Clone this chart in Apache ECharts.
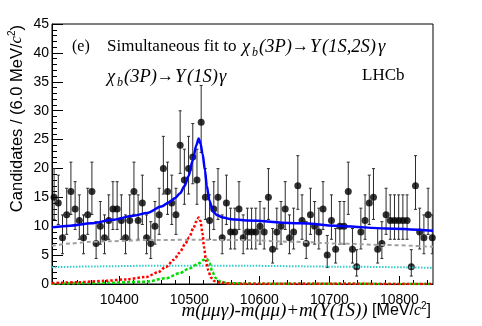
<!DOCTYPE html>
<html>
<head>
<meta charset="utf-8">
<script src="https://cdn.jsdelivr.net/npm/echarts@6/dist/echarts.min.js"></script>
<style>
  html, body { margin: 0; padding: 0; background: #fff; }
  #chart { width: 482px; height: 326px; }
</style>
</head>
<body>
<div id="chart"></div>
<script>
var myChart = echarts.init(document.getElementById('chart'));

// histogram: 6 MeV bins starting at 10304
var binStart = 10304;
var binWidth = 6;
var counts = [
    15, 14, 8, 12, 16, 13, 11, 8, 12, 16,
    7, 10, 8, 11, 13, 13, 11, 8, 11, 16,
    11, 14, 8, 7, 10, 12, 20, 16, 14, 12,
    24, 18, 20, 22, 18, 28, 15, 11, 13, 15,
    8, 14, 9, 9, 13, 8, 9, 9, 9, 10,
    9, 15, 6, 9, 10, 13, 8, 9, 17, 11,
    7, 12, 10, 9, 13, 5, 11, 6, 10, 10,
    16, 6, 3, 9, 11, 14, 15, 6, 7, 12,
    11, 11, 11, 11, 11, 3, 17, 9, 8, 12,
    8
];

// fit curves [mass, candidates]
var totalFit = [
    [10304, 9.8], [10330, 10.1], [10360, 10.5], [10390, 11.1], [10420, 11.8],
    [10440, 12.3], [10460, 13.4], [10472, 14.2], [10480, 14.9], [10487, 15.7],
    [10493, 16.9], [10499, 18.7], [10505, 21.4], [10510, 24.0], [10513.5, 25.2],
    [10516, 24.3], [10519, 22.5], [10522.4, 19.7], [10525, 17.0], [10528.6, 14.5],
    [10534, 12.5], [10540, 11.9], [10548, 11.5], [10560, 11.2], [10582, 11.0],
    [10658, 10.5], [10720, 10.0], [10780, 9.6], [10848, 9.2]
];
var signal1S = [
    [10304, 0.15], [10340, 0.3], [10380, 0.55], [10410, 0.8], [10438, 1.2],
    [10455, 2.0], [10467, 3.0], [10478, 4.2], [10486, 5.4], [10494, 6.9],
    [10500, 8.1], [10506, 9.7], [10510, 10.8], [10513.5, 11.5], [10516, 10.9],
    [10519, 8.7], [10521, 6.4], [10524, 4.0], [10527, 2.4], [10531, 1.1],
    [10536, 0.5], [10545, 0.2], [10560, 0.05], [10848, 0.0]
];
var signal2S = [
    [10304, 0.05], [10380, 0.2], [10438, 0.4], [10467, 1.0], [10486, 1.85],
    [10500, 2.7], [10514, 3.6], [10521, 4.2], [10525, 4.35], [10529, 3.6],
    [10533, 2.1], [10538, 1.0], [10545, 0.4], [10555, 0.15], [10600, 0.05],
    [10848, 0.0]
];
var bkgA = [
    [10304, 6.6], [10330, 7.0], [10358, 7.3], [10387, 7.4], [10438, 7.6],
    [10500, 7.65], [10578, 7.6], [10650, 7.3], [10715, 7.0], [10780, 6.75],
    [10848, 6.45]
];
var bkgB = [
    [10304, 2.9], [10370, 3.05], [10438, 3.15], [10578, 3.15], [10715, 3.0],
    [10848, 2.8]
];

var xLabels = [10400, 10500, 10600, 10700, 10800];
var xMinor = [10320, 10340, 10360, 10380, 10420, 10440, 10460, 10480,
    10520, 10540, 10560, 10580, 10620, 10640, 10660, 10680,
    10720, 10740, 10760, 10780, 10820, 10840];

// Poisson (Gehrels) intervals for the data points
var points = [];
var errors = [];
counts.forEach(function (n, i) {
    var x = binStart + binWidth * (i + 0.5);
    var lo = n * Math.pow(1 - 1 / (9 * n) - 1 / (3 * Math.sqrt(n)), 3);
    var hi = n + Math.sqrt(n + 0.75) + 1;
    points.push([x, n]);
    errors.push([x, lo, hi]);
});

function renderErr(params, api) {
    var top = api.coord([api.value(0), api.value(2)]);
    var bot = api.coord([api.value(0), api.value(1)]);
    var st = {stroke: '#2a2a2a', lineWidth: 1};
    return {
        type: 'group',
        children: [
            {type: 'line', shape: {x1: top[0], y1: top[1], x2: bot[0], y2: bot[1]}, style: st},
            {type: 'line', shape: {x1: top[0] - 1.5, y1: top[1], x2: top[0] + 1.5, y2: top[1]}, style: st},
            {type: 'line', shape: {x1: bot[0] - 1.5, y1: bot[1], x2: bot[0] + 1.5, y2: bot[1]}, style: st}
        ]
    };
}

function curve(name, data, color, width, type, z) {
    return {
        name: name,
        type: 'line',
        data: data,
        smooth: 0.3,
        smoothMonotone: 'x',
        showSymbol: false,
        symbol: 'none',
        z: z,
        lineStyle: {color: color, width: width, type: type},
        animation: false
    };
}

var serif = 'Liberation Serif';
var sans = 'Liberation Sans';

// TLatex-like text, placed piece by piece
function piece(txt, x, y, font) {
    return {type: 'text', x: x, y: y, style: {text: txt, font: font, fill: '#000', verticalAlign: 'middle'}};
}
var it = 'italic 18.5px ' + serif;
var rm = '17px ' + serif;
var sub = 'italic 12px ' + serif;
var labelPieces = [
    piece('(e)', 72, 47, '16px ' + serif),
    piece('Simultaneous fit to', 107, 47, rm),
    piece('χ', 242, 47, it), piece('b', 252, 53, sub), piece('(3P)', 259, 47, it),
    piece('→', 292, 47, rm), piece('Υ', 310, 47, it), piece('(1S,2S)', 322, 47, it),
    piece('γ', 378, 47, it),
    piece('χ', 107, 77, it), piece('b', 117, 83, sub), piece('(3P)', 124, 77, it),
    piece('→', 157, 77, rm), piece('Υ', 175, 77, it), piece('(1S)', 187, 77, it),
    piece('γ', 219, 77, it),
    piece('LHCb', 362, 76, '17px ' + serif)
];

var option = {
    animation: false,
    backgroundColor: '#fff',
    grid: {
        left: 52, right: 49, top: 24, bottom: 42,
        show: true, borderColor: '#000', borderWidth: 1
    },
    xAxis: [{
        type: 'value',
        min: 10304,
        max: 10848,
        axisLine: {lineStyle: {color: '#000', width: 1}},
        axisTick: {inside: true, length: 8, customValues: xLabels, lineStyle: {color: '#000'}},
        axisLabel: {
            customValues: xLabels, color: '#000', fontFamily: sans, fontSize: 14, margin: 9,
            formatter: function (v) { return String(v); }
        },
        splitLine: {show: false}
    }, {
        type: 'value',
        min: 10304,
        max: 10848,
        position: 'bottom',
        axisLine: {show: false},
        axisTick: {inside: true, length: 4, customValues: xMinor, lineStyle: {color: '#000'}},
        axisLabel: {show: false},
        splitLine: {show: false}
    }],
    yAxis: {
        type: 'value',
        min: 0,
        max: 45,
        interval: 5,
        axisLine: {show: true, lineStyle: {color: '#000'}},
        axisTick: {show: true, inside: true, length: 11, lineStyle: {color: '#000'}},
        minorTick: {show: true, splitNumber: 5, length: 5, lineStyle: {color: '#000'}},
        axisLabel: {color: '#000', fontFamily: sans, fontSize: 14, margin: 3},
        splitLine: {show: false}
    },
    graphic: labelPieces.concat([
        {
            type: 'text', x: 17, y: 25, rotation: Math.PI / 2,
            style: {
                text: '{s|Candidates / (6.0 MeV/}{c|c}{sup|2}{s|)}',
                align: 'right',
                verticalAlign: 'middle',
                rich: {
                    s: {fontFamily: sans, fontSize: 16.5, lineHeight: 22, fill: '#000'},
                    c: {fontFamily: serif, fontStyle: 'italic', fontSize: 16.5, lineHeight: 22, fill: '#000'},
                    sup: {fontFamily: sans, fontSize: 10, lineHeight: 10, padding: [0, 0, 10, 0], fill: '#000'}
                }
            }
        },
        {
            type: 'text', x: 431, y: 311,
            style: {
                text: '{m|m(μμγ)-m(μμ)+m(Υ(1S))}{s| [MeV/}{c|c}{sup|2}{s|]}',
                align: 'right',
                verticalAlign: 'middle',
                rich: {
                    m: {fontFamily: serif, fontStyle: 'italic', fontSize: 19, lineHeight: 22, fill: '#000'},
                    s: {fontFamily: sans, fontSize: 16, lineHeight: 22, fill: '#000'},
                    c: {fontFamily: serif, fontStyle: 'italic', fontSize: 16, lineHeight: 22, fill: '#000'},
                    sup: {fontFamily: sans, fontSize: 10, lineHeight: 10, padding: [0, 0, 10, 0], fill: '#000'}
                }
            }
        }
    ]),
    series: [
        {
            name: 'errors',
            type: 'custom',
            renderItem: renderErr,
            data: errors,
            clip: true,
            z: 2,
            animation: false
        },
        {
            name: 'data',
            type: 'scatter',
            data: points,
            symbol: 'circle',
            symbolSize: 7,
            itemStyle: {color: '#000'},
            z: 3,
            animation: false
        },
        curve('bkgB', bkgB, '#33cccc', 2, [1.5, 1.5], 4),
        curve('bkgA', bkgA, '#a0a0a0', 2, [4, 3], 4),
        curve('signal2S', signal2S, '#00dd00', 2.5, [3, 2], 5),
        curve('signal1S', signal1S, '#ff0000', 2.5, [2.5, 2], 5),
        curve('total', totalFit, '#0000ff', 2.5, 'solid', 6)
    ]
};

myChart.setOption(option);
</script>
</body>
</html>
